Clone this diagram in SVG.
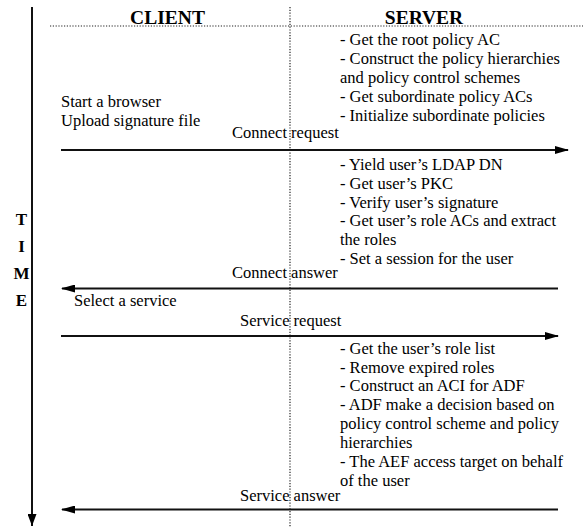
<svg xmlns="http://www.w3.org/2000/svg" width="583" height="527" viewBox="0 0 583 527">
<style>
text{font-family:"Liberation Serif","Times New Roman",serif;fill:#000}
.t{font-size:16.5px}
.h{font-size:19.5px;font-weight:bold}
.tm{font-size:17px;font-weight:bold;text-anchor:middle}
.dot{stroke:#222;stroke-width:1.2;stroke-dasharray:1.2 1.6;fill:none}
.msg{stroke:#111;stroke-width:2;fill:none}
</style>
<defs>
<marker id="ah" markerWidth="14" markerHeight="8" refX="13" refY="4" orient="auto" markerUnits="userSpaceOnUse">
<path d="M0,0 L14,4 L0,8 Z" fill="#000"/>
</marker>
<marker id="ta" markerWidth="9" markerHeight="12" refX="4.5" refY="12" orient="0" markerUnits="userSpaceOnUse">
<path d="M0,0 L9,0 L4.5,12 Z" fill="#000"/>
</marker>
</defs>
<g id="frame">
<line class="dot" x1="50" y1="26" x2="583" y2="26"/>
<line class="dot" x1="290" y1="7" x2="290" y2="527"/>
<line x1="32" y1="7" x2="32" y2="526" stroke="#111" stroke-width="2" marker-end="url(#ta)"/>
<text class="h" x="167.5" y="24" text-anchor="middle">CLIENT</text>
<text class="h" x="424" y="24" text-anchor="middle">SERVER</text>
</g>
<g id="time">
<text class="tm" x="21.5" y="225">T</text>
<text class="tm" x="21.5" y="252">I</text>
<text class="tm" x="21.5" y="279">M</text>
<text class="tm" x="21.5" y="306">E</text>
</g>
<g id="client-start">
<text class="t" x="61" y="107">Start a browser</text>
<text class="t" x="61" y="126">Upload signature file</text>
</g>
<g id="server-init">
<text class="t" x="340" y="45">- Get the root policy AC</text>
<text class="t" x="340" y="64">- Construct the policy hierarchies</text>
<text class="t" x="340" y="83">and policy control schemes</text>
<text class="t" x="340" y="102">- Get subordinate policy ACs</text>
<text class="t" x="340" y="121">- Initialize subordinate policies</text>
</g>
<g id="server-auth">
<text class="t" x="340" y="170">- Yield user’s LDAP DN</text>
<text class="t" x="340" y="189">- Get user’s PKC</text>
<text class="t" x="340" y="207.5">- Verify user’s signature</text>
<text class="t" x="340" y="226">- Get user’s role ACs and extract</text>
<text class="t" x="340" y="245">the roles</text>
<text class="t" x="340" y="264">- Set a session for the user</text>
</g>
<g id="client-select">
<text class="t" x="74" y="306">Select a service</text>
</g>
<g id="server-decide">
<text class="t" x="340" y="354">- Get the user’s role list</text>
<text class="t" x="340" y="372.5">- Remove expired roles</text>
<text class="t" x="340" y="391">- Construct an ACI for ADF</text>
<text class="t" x="340" y="410">- ADF make a decision based on</text>
<text class="t" x="340" y="429">policy control scheme and policy</text>
<text class="t" x="340" y="448">hierarchies</text>
<text class="t" x="340" y="467">- The AEF access target on behalf</text>
<text class="t" x="340" y="486">of the user</text>
</g>
<g id="connectors">
<line class="msg" x1="61" y1="150" x2="568" y2="150" marker-end="url(#ah)"/>
<text class="t" x="232" y="138">Connect request</text>
<line class="msg" x1="558" y1="288.5" x2="62" y2="288.5" marker-end="url(#ah)"/>
<text class="t" x="232" y="278">Connect answer</text>
<line class="msg" x1="61" y1="336" x2="558" y2="336" marker-end="url(#ah)"/>
<text class="t" x="240" y="326">Service request</text>
<line class="msg" x1="558" y1="509.5" x2="62" y2="509.5" marker-end="url(#ah)"/>
<text class="t" x="240" y="501">Service answer</text>
</g>
</svg>
